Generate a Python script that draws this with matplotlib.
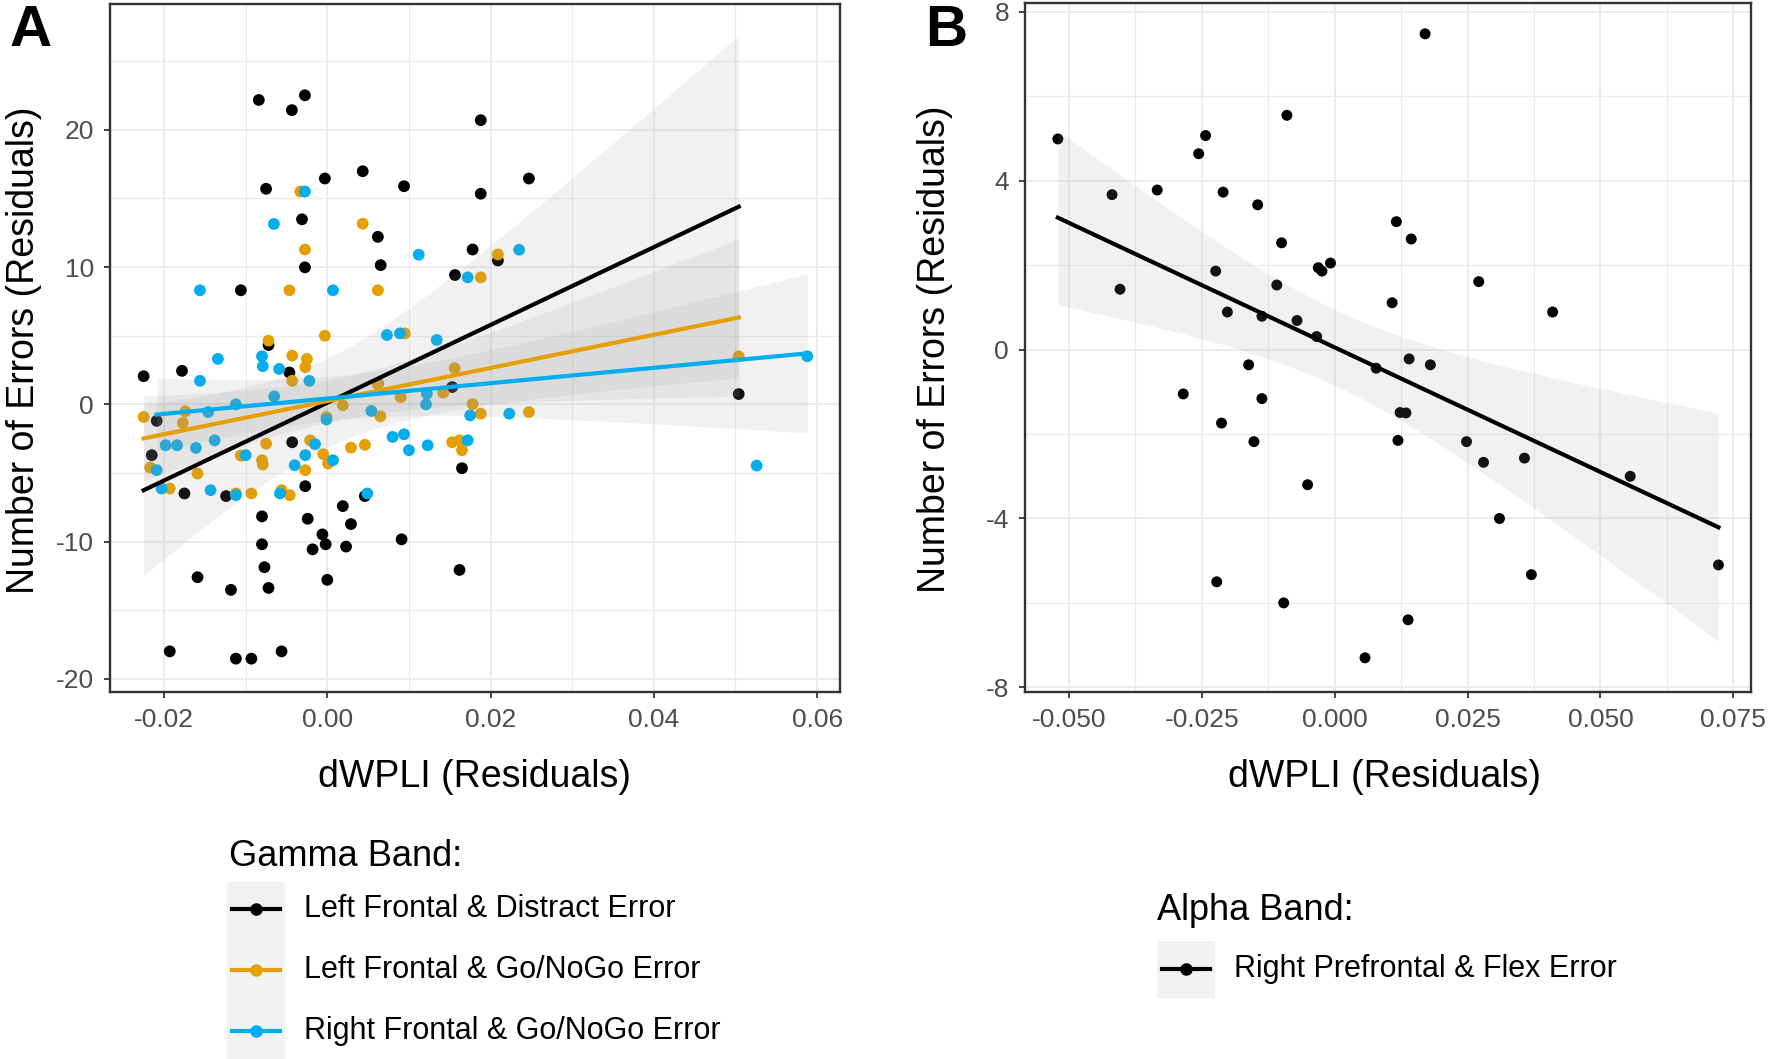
import numpy as np
import matplotlib
matplotlib.use("Agg")
import matplotlib.pyplot as plt
from matplotlib.lines import Line2D
from matplotlib.patches import Rectangle
from matplotlib.ticker import MultipleLocator, FuncFormatter

plt.rcParams['font.family'] = ['Liberation Sans', 'DejaVu Sans']
plt.rcParams['axes.unicode_minus'] = False

# ---- panel A: gamma band residuals ----
distract_x = [-0.00839, -0.00434, -0.00274, 0.0188, -0.0075, -0.0003, 0.00434, 0.0094, 0.0188, 0.0247,
              -0.0031, 0.0062, 0.0178, 0.0209, -0.00274, 0.00654, 0.01564, -0.01059, -0.0072, -0.00464,
              -0.0225, -0.0178, 0.0504, 0.0153, 0.0062, -0.0209, -0.0215, -0.0175, -0.0124, -0.0043,
              -0.0027, 0.0046, 0.0165, 0.0019, -0.008, -0.0024, 0.0029, -0.0006, -0.008, -0.0002,
              -0.0018, 0.0023, 0.0091, -0.0077, -0.0159, -0.0118, -0.0072, 0.0, 0.0162, -0.0193,
              -0.0112, -0.0093, -0.0056]
distract_y = [22.17, 21.43, 22.51, 20.70, 15.70, 16.45, 16.98, 15.89, 15.34, 16.45,
              13.48, 12.20, 11.28, 10.48, 9.98, 10.14, 9.42, 8.31, 4.32, 2.32,
              2.05, 2.44, 0.75, 1.26, 1.5, -1.2, -3.7, -6.49, -6.68, -2.76,
              -5.96, -6.68, -4.65, -7.41, -8.16, -8.33, -8.72, -9.47, -10.19, -10.19,
              -10.56, -10.36, -9.83, -11.86, -12.59, -13.51, -13.37, -12.78, -12.06, -17.99,
              -18.52, -18.52, -17.99]

gonogo_l_x = [-0.0033, 0.00434, -0.00274, 0.0209, 0.0188, -0.00464, 0.0062, -0.0003, -0.0072, 0.0095,
              -0.0043, -0.0025, -0.0027, -0.0043, 0.0156, 0.0504, -0.0174, -0.0225, 0.0019, 0.009,
              0.0142, 0.0178, 0.0188, 0.0247, 0.0065, -0.0001, 0.0062, -0.0177, -0.0217, -0.0193,
              -0.0159, -0.0106, -0.008, -0.0079, -0.0075, -0.0112, -0.0093, -0.0056, -0.0046, -0.0027,
              -0.0021, -0.0005, 0.0001, 0.0029, 0.0046, 0.0153, 0.0162, 0.0165]
gonogo_l_y = [15.5, 13.16, 11.28, 10.92, 9.25, 8.31, 8.31, 5.0, 4.64, 5.17,
              3.55, 3.31, 2.71, 1.71, 2.63, 3.50, -0.51, -0.92, -0.07, 0.53,
              0.85, 0.02, -0.68, -0.56, -0.87, -0.92, 1.5, -1.36, -4.6, -6.13,
              -5.04, -3.73, -4.07, -4.38, -2.86, -6.49, -6.49, -6.25, -6.61, -4.79,
              -2.62, -3.63, -4.31, -3.15, -2.95, -2.76, -2.62, -3.34]

gonogo_r_x = [-0.00274, -0.00654, -0.0156, 0.0007, 0.0112, 0.0235, 0.0172, 0.0073, 0.0089, 0.0134,
              -0.0134, -0.008, -0.0079, -0.0059, -0.0156, -0.0022, -0.0065, -0.0112, -0.0146, 0.0054,
              0.0121, 0.0588, 0.0175, 0.0223, -0.0001, -0.0209, -0.0203, -0.0198, -0.0184, -0.0161,
              -0.0138, -0.01, -0.0143, -0.0112, -0.0058, -0.004, -0.0027, -0.0015, 0.0007, 0.0049,
              0.008, 0.0094, 0.01, 0.0123, 0.0172, 0.0526, 0.0122]
gonogo_r_y = [15.5, 13.14, 8.31, 8.31, 10.9, 11.26, 9.25, 5.05, 5.17, 4.69,
              3.31, 3.5, 2.78, 2.58, 1.71, 1.71, 0.58, 0.0, -0.56, -0.48,
              0.0, 3.50, -0.8, -0.68, -1.1, -4.79, -6.13, -2.98, -2.98, -3.17,
              -2.62, -3.7, -6.25, -6.61, -6.49, -4.43, -3.7, -2.9, -4.07, -6.49,
              -2.37, -2.18, -3.34, -2.98, -2.62, -4.46, 0.77]

gamma_labels = ['Left Frontal & Distract Error', 'Left Frontal & Go/NoGo Error',
                'Right Frontal & Go/NoGo Error']
gamma_colors = ['black', '#E69F00', '#00AEEF']

# ---- panel B: alpha band residuals ----
flex_x = [-0.0521, -0.0419, -0.0404, -0.0334, -0.0285, -0.0256, -0.0243, -0.0224, -0.0213, -0.0210,
          -0.0202, -0.0222, -0.0145, -0.0162, -0.0152, -0.0137, -0.0137, -0.0109, -0.0100, -0.0090,
          -0.0096, -0.0071, -0.0051, -0.0034, -0.0031, -0.0024, -0.0008, 0.0078, 0.0057, 0.0108,
          0.0116, 0.0119, 0.0123, 0.0134, 0.0140, 0.0144, 0.0138, 0.0170, 0.0180, 0.0248,
          0.0271, 0.0280, 0.0310, 0.0357, 0.0370, 0.0410, 0.0556, 0.0722]
flex_y = [4.99, 3.67, 1.43, 3.78, -1.05, 4.64, 5.07, 1.86, -1.74, 3.73,
          0.89, -5.5, 3.43, -0.36, -2.18, -1.16, 0.79, 1.53, 2.53, 5.55,
          -6.0, 0.69, -3.2, 0.31, 1.94, 1.86, 2.05, -0.44, -7.3, 1.11,
          3.03, -2.15, -1.49, -1.5, -0.22, 2.62, -6.4, 7.48, -0.36, -2.18,
          1.61, -2.67, -4.0, -2.57, -5.33, 0.89, -3.0, -5.1]
alpha_labels = ['Right Prefrontal & Flex Error']

W, H = 1770, 1059


def lm_band(x, y, n=100):
    # same as geom_smooth(method='lm'): fit + 95% CI of the mean
    x = np.asarray(x, float)
    y = np.asarray(y, float)
    b1, b0 = np.polyfit(x, y, 1)
    xs = np.linspace(x.min(), x.max(), n)
    yhat = b0 + b1 * xs
    dof = len(x) - 2
    s = np.sqrt(np.sum((y - (b0 + b1 * x)) ** 2) / dof)
    se = s * np.sqrt(1 / len(x) + (xs - x.mean()) ** 2 / np.sum((x - x.mean()) ** 2))
    t = 1.96 + 2.4 / dof
    return xs, yhat, yhat - t * se, yhat + t * se


def style_axes(ax):
    ax.set_facecolor('white')
    ax.grid(True, which='major', color='#ebebeb', linewidth=1.3, zorder=0)
    ax.grid(True, which='minor', color='#ebebeb', linewidth=0.8, zorder=0)
    ax.set_axisbelow(True)
    for sp in ax.spines.values():
        sp.set_color('#333333')
        sp.set_linewidth(1.7)
    ax.tick_params(which='major', length=4.5, width=1.3, color='#333333',
                   labelsize=19, labelcolor='#4D4D4D', pad=7)
    ax.tick_params(which='minor', length=0)


def fig_legend(title, title_xy, box, keys, labels, colors, label_x):
    f = lambda x, y: (x / W, 1 - y / H)
    fig.text(*f(*title_xy), title, fontsize=26, ha='left', va='center')
    bx0, by0, bx1, by1 = box
    fig.add_artist(Rectangle(f(bx0, by1), (bx1 - bx0) / W, (by1 - by0) / H,
                             transform=fig.transFigure, facecolor='#f2f2f2', edgecolor='none'))
    for ky, lab, c in zip(keys, labels, colors):
        x0, y0 = f(bx0 + 5, ky)
        x1, _ = f(bx1 - 5, ky)
        fig.add_artist(Line2D([x0, x1], [y0, y0], transform=fig.transFigure, color=c, lw=3))
        fig.add_artist(Line2D([(x0 + x1) / 2], [y0], transform=fig.transFigure, color=c,
                              marker='o', ms=8, lw=0))
        fig.text(*f(label_x, ky), lab, fontsize=22, ha='left', va='center')


fig = plt.figure(figsize=(W / 100, H / 100), dpi=100)
axA = fig.add_axes([110 / W, 1 - 692 / H, 730 / W, 688 / H])
axB = fig.add_axes([1025 / W, 1 - 692 / H, 726 / W, 689 / H])

# panel A
series = [(distract_x, distract_y), (gonogo_l_x, gonogo_l_y), (gonogo_r_x, gonogo_r_y)]
for (x, y), c in zip(series, gamma_colors):
    axA.scatter(x, y, s=72, color=c, edgecolors='none', zorder=3)
for (x, y), c in zip(series, gamma_colors):
    xs, yh, lo, hi = lm_band(x, y)
    axA.fill_between(xs, lo, hi, color='#999999', alpha=0.13, linewidth=0, zorder=4)
    axA.plot(xs, yh, color=c, lw=3, zorder=5)

axA.set_xlim(-0.02662, 0.06281)
axA.set_ylim(-20.95, 29.16)
axA.xaxis.set_major_locator(MultipleLocator(0.02))
axA.xaxis.set_minor_locator(MultipleLocator(0.01))
axA.yaxis.set_major_locator(MultipleLocator(10))
axA.yaxis.set_minor_locator(MultipleLocator(5))
axA.xaxis.set_major_formatter(FuncFormatter(lambda v, p: f'{v:.2f}'.replace('-0.00', '0.00')))
axA.yaxis.set_major_formatter(FuncFormatter(lambda v, p: f'{round(v):d}'))
style_axes(axA)
axA.set_xlabel('dWPLI (Residuals)', fontsize=27)
axA.set_ylabel('Number of Errors (Residuals)', fontsize=27)
axA.xaxis.set_label_coords(0.5, -0.124)
axA.xaxis.label.set_va('center')
axA.yaxis.set_label_coords(-0.118, 0.497)
axA.yaxis.label.set_va('center')

# panel B
axB.scatter(flex_x, flex_y, s=62, color='black', edgecolors='none', zorder=3)
xs, yh, lo, hi = lm_band(flex_x, flex_y)
axB.fill_between(xs, lo, hi, color='#999999', alpha=0.13, linewidth=0, zorder=4)
axB.plot(xs, yh, color='black', lw=3, zorder=5)
axB.set_xlim(-0.05828, 0.07833)
axB.set_ylim(-8.11, 8.21)
axB.xaxis.set_major_locator(MultipleLocator(0.025))
axB.xaxis.set_minor_locator(MultipleLocator(0.0125))
axB.yaxis.set_major_locator(MultipleLocator(4))
axB.yaxis.set_minor_locator(MultipleLocator(2))
axB.xaxis.set_major_formatter(FuncFormatter(lambda v, p: f'{v:.3f}'.replace('-0.000', '0.000')))
axB.yaxis.set_major_formatter(FuncFormatter(lambda v, p: f'{round(v):d}'))
style_axes(axB)
axB.set_xlabel('dWPLI (Residuals)', fontsize=27)
axB.set_ylabel('Number of Errors (Residuals)', fontsize=27)
axB.xaxis.set_label_coords(0.495, -0.124)
axB.xaxis.label.set_va('center')
axB.yaxis.set_label_coords(-0.124, 0.497)
axB.yaxis.label.set_va('center')

# panel letters
fig.text(31 / W, 1 - 31 / H, 'A', fontsize=42, fontweight='bold', ha='center', va='center')
fig.text(946 / W, 1 - 31 / H, 'B', fontsize=42, fontweight='bold', ha='center', va='center')

# legends
fig_legend('Gamma Band:', (229, 857), (227, 882, 285, 1059), [909, 970, 1031],
           gamma_labels, gamma_colors, 304)
fig_legend('Alpha Band:', (1157, 910), (1157, 941, 1215, 998), [969],
           alpha_labels, ['black'], 1234)

fig.savefig('out.png', dpi=100)
